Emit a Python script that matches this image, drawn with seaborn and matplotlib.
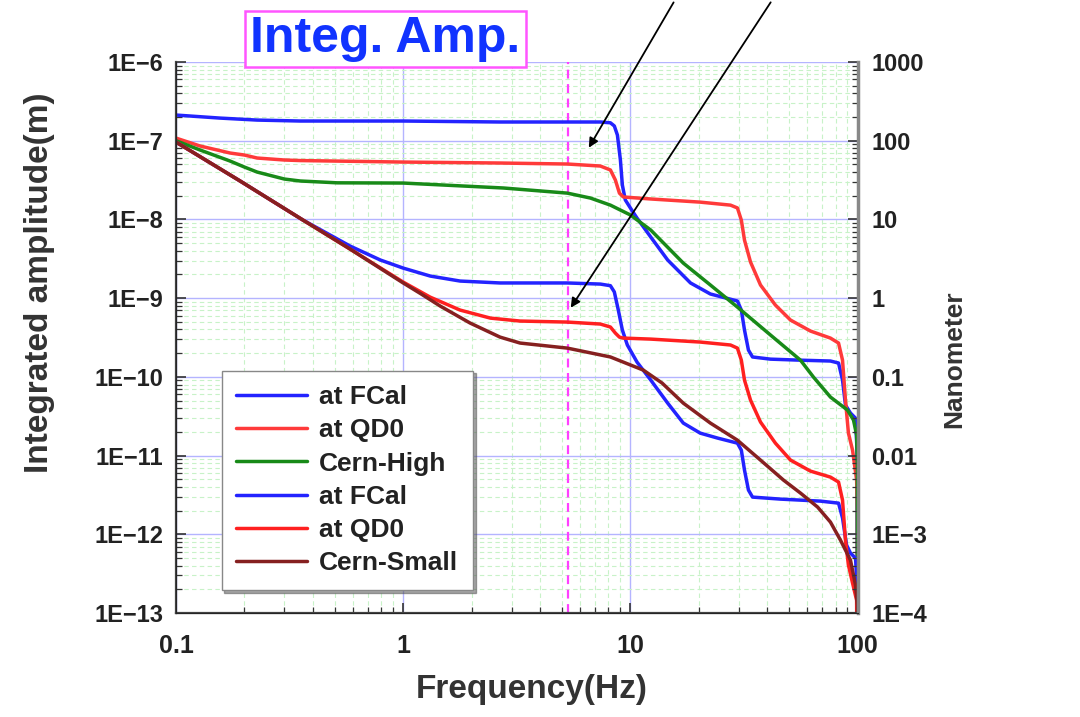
import numpy as np
import pandas as pd
import matplotlib
matplotlib.use("Agg")
import matplotlib.pyplot as plt
import seaborn as sns

# integrated amplitude curves (frequency in Hz, amplitude in m)
fcal_hi_f = [0.1, 0.156, 0.2275, 0.352, 1.0, 2.67, 5.28, 7.38, 8.17, 8.5, 8.77, 9.04, 9.22, 9.5,
             10.0, 10.7, 12.3, 14.6, 18.4, 22.5, 29.6, 30.8, 31.8, 33.1, 34.5, 41.4, 56.1, 76.0,
             82.5, 85.9, 88.5, 93.1, 98.0, 99.5, 99.99]
fcal_hi_a = [2.12e-7, 1.94e-7, 1.83e-7, 1.78e-7, 1.78e-7, 1.73e-7, 1.73e-7, 1.73e-7, 1.69e-7, 1.54e-7,
             1.18e-7, 5.69e-8, 2.74e-8, 1.77e-8, 1.40e-8, 1.04e-8, 5.97e-9, 3.05e-9, 1.56e-9, 1.13e-9,
             9.2e-10, 7.06e-10, 3.94e-10, 2.19e-10, 1.79e-10, 1.68e-10, 1.63e-10, 1.59e-10, 1.50e-10,
             9.1e-11, 4.38e-11, 3.47e-11, 2.99e-11, 1.17e-11, 1e-15]

qd0_hi_f = [0.1, 0.1276, 0.173, 0.2, 0.2275, 0.3, 0.352, 1.0, 2.67, 5.28, 7.38, 8.17, 8.59, 8.95,
            9.31, 12.3, 20.3, 27.6, 29.6, 30.8, 31.8, 33.8, 37.4, 43.5, 50.7, 62.1, 76.0, 82.5,
            85.9, 88.5, 91.2, 95.1, 99.1, 99.8, 99.99]
qd0_hi_a = [1.08e-7, 8.57e-8, 6.98e-8, 6.58e-8, 6.03e-8, 5.69e-8, 5.6e-8, 5.36e-8, 5.21e-8, 5.06e-8,
            4.77e-8, 4.25e-8, 3.17e-8, 2.16e-8, 1.93e-8, 1.82e-8, 1.66e-8, 1.52e-8, 1.40e-8, 9.8e-9,
            5.47e-9, 2.88e-9, 1.47e-9, 8.17e-10, 5.27e-10, 3.82e-10, 3.11e-10, 2.69e-10, 1.63e-10,
            5.07e-11, 1.93e-11, 1.17e-11, 4.89e-12, 2.03e-12, 1e-15]

cern_hi_f = [0.1, 0.1276, 0.173, 0.2, 0.2275, 0.3, 0.352, 0.512, 1.0, 2.76, 5.28, 6.67, 8.17, 10.0,
             12.3, 17.1, 22.5, 29.6, 41.4, 56.1, 64.0, 76.0, 90.3, 96.0, 99.1, 99.8, 99.99]
cern_hi_a = [1.0e-7, 7.62e-8, 5.52e-8, 4.63e-8, 4.0e-8, 3.26e-8, 3.08e-8, 2.92e-8, 2.90e-8, 2.51e-8,
             2.16e-8, 1.87e-8, 1.52e-8, 1.14e-8, 7.33e-9, 2.79e-9, 1.47e-9, 7.7e-10, 3.4e-10,
             1.63e-10, 9.93e-11, 5.54e-11, 3.79e-11, 2.83e-11, 1.82e-11, 7.57e-12, 1e-15]

fcal_lo_f = [0.1, 0.1914, 0.3625, 0.584, 0.794, 1.0, 1.315, 1.78, 2.67, 5.28, 7.38, 8.17, 8.5, 8.85,
             9.22, 9.7, 10.7, 12.3, 14.6, 17.1, 20.3, 24.2, 29.6, 30.8, 31.8, 33.1, 34.5, 45.8, 68.7,
             82.5, 85.9, 89.5, 93.1, 98.0, 99.8, 99.99]
fcal_lo_a = [9.62e-8, 3.08e-8, 9.8e-9, 4.59e-9, 3.05e-9, 2.41e-9, 1.91e-9, 1.65e-9, 1.56e-9, 1.56e-9,
             1.51e-9, 1.44e-9, 1.2e-9, 7.06e-10, 3.94e-10, 2.54e-10, 1.54e-10, 9.1e-11, 4.64e-11,
             2.59e-11, 1.93e-11, 1.67e-11, 1.44e-11, 1.17e-11, 6.55e-12, 3.65e-12, 2.97e-12, 2.8e-12,
             2.64e-12, 2.49e-12, 1.61e-12, 7.3e-13, 5.77e-13, 4.99e-13, 1.95e-13, 1e-15]

qd0_lo_f = [0.1, 0.1914, 0.3625, 0.584, 1.0, 1.315, 1.78, 2.42, 3.27, 5.28, 7.38, 8.17, 8.59, 8.95,
            9.31, 12.3, 20.3, 27.6, 29.6, 30.8, 31.8, 33.8, 37.4, 43.5, 50.7, 62.1, 76.0, 82.5, 85.9,
            88.5, 91.2, 95.1, 99.1, 99.99]
qd0_lo_a = [9.62e-8, 3.08e-8, 9.8e-9, 4.2e-9, 1.6e-9, 1.03e-9, 7.06e-10, 5.58e-10, 5.12e-10, 4.97e-10,
            4.69e-10, 4.3e-10, 3.6e-10, 3.2e-10, 3.11e-10, 3.02e-10, 2.77e-10, 2.54e-10, 2.32e-10,
            1.63e-10, 9.1e-11, 5.07e-11, 2.67e-11, 1.44e-11, 8.77e-12, 6.35e-12, 5.33e-12, 4.61e-12,
            2.72e-12, 8.4e-13, 4.06e-13, 2.4e-13, 1.45e-13, 1e-15]

cern_sm_f = [0.1, 0.1914, 0.3625, 0.584, 1.0, 1.2, 1.455, 1.97, 2.67, 3.27, 5.28, 8.17, 11.4, 13.8,
             17.1, 22.5, 29.6, 37.4, 47.2, 56.1, 66.7, 76.0, 84.2, 93.1, 98.0, 99.8, 99.99]
cern_sm_a = [9.62e-8, 3.08e-8, 9.8e-9, 4.2e-9, 1.56e-9, 1.13e-9, 7.94e-10, 4.83e-10, 3.2e-10,
             2.69e-10, 2.32e-10, 1.79e-10, 1.22e-10, 8.34e-11, 4.64e-11, 2.59e-11, 1.57e-11,
             8.77e-12, 4.89e-12, 3.34e-12, 2.22e-12, 1.43e-12, 8.4e-13, 4.7e-13, 2.26e-13, 1.26e-13,
             1e-15]

series = [
    ("at FCal", fcal_hi_f, fcal_hi_a, "#2323ff"),
    ("at QD0", qd0_hi_f, qd0_hi_a, "#ff3a3a"),
    ("Cern-High", cern_hi_f, cern_hi_a, "#188a18"),
    ("at FCal", fcal_lo_f, fcal_lo_a, "#2323ff"),
    ("at QD0", qd0_lo_f, qd0_lo_a, "#ff2020"),
    ("Cern-Small", cern_sm_f, cern_sm_a, "#862020"),
]

left_ticks = [1e-13, 1e-12, 1e-11, 1e-10, 1e-9, 1e-8, 1e-7, 1e-6]
left_labels = ["1E\u221213", "1E\u221212", "1E\u221211", "1E\u221210",
               "1E\u22129", "1E\u22128", "1E\u22127", "1E\u22126"]
right_ticks = [1e-4, 1e-3, 1e-2, 1e-1, 1, 10, 100, 1000]
right_labels = ["1E\u22124", "1E\u22123", "0.01", "0.1", "1", "10", "100", "1000"]
x_ticks = [0.1, 1, 10, 100]
x_labels = ["0.1", "1", "10", "100"]

marker_freq = 5.3

sns.set_style("ticks")
plt.rcParams["font.family"] = ["Liberation Sans", "DejaVu Sans"]

fig = plt.figure(figsize=(10.8, 7.17), dpi=100)
ax = fig.add_axes([0.163, 0.145, 0.631, 0.7685])
ax.set_xscale("log")
ax.set_yscale("log")

for label, f, a, c in series:
    df = pd.DataFrame({"f": f, "a": a})
    sns.lineplot(data=df, x="f", y="a", ax=ax, color=c, lw=2.5, label=label,
                 sort=False, estimator=None)

ax.set_xlim(0.1, 100)
ax.set_ylim(1e-13, 1e-6)

# grids: blue decades, green dashed minors
ax.grid(which="major", color="#b4b4ff", lw=1.0, ls="-")
ax.grid(which="minor", color="#c8f2c8", lw=0.8, ls=(0, (4, 3)))
ax.set_axisbelow(True)

ax.axvline(marker_freq, color="#ff40ff", ls=(0, (4, 2.5)), lw=1.6, zorder=1.5)

ax.set_xticks(x_ticks)
ax.set_xticklabels(x_labels)
ax.set_yticks(left_ticks)
ax.set_yticklabels(left_labels)
ax.tick_params(which="both", direction="in", colors="#333333", labelcolor="#222222")
ax.tick_params(which="major", length=7, width=1.2, labelsize=17)
ax.tick_params(which="minor", length=4, width=0.9)
ax.tick_params(axis="x", pad=15, labelsize=18)
ax.tick_params(axis="y", pad=9)
for t in ax.get_xticklabels() + ax.get_yticklabels():
    t.set_fontweight("bold")
ax.spines["top"].set_visible(False)
for s in ["left", "bottom"]:
    ax.spines[s].set_color("#444444")
    ax.spines[s].set_linewidth(1.6)

ax.set_xlabel("Frequency(Hz)", fontsize=24, fontweight="bold", color="#333333")
ax.set_ylabel("Integrated amplitude(m)", fontsize=24, fontweight="bold", color="#333333")
ax.xaxis.set_label_coords(0.522, -0.11)
ax.yaxis.set_label_coords(-0.178, 0.6)

ax2 = ax.twinx()
ax2.set_yscale("log")
ax2.set_ylim(1e-4, 1000)
ax2.set_yticks(right_ticks)
ax2.set_yticklabels(right_labels)
ax2.tick_params(which="both", direction="in", colors="#333333", labelcolor="#222222")
ax2.tick_params(which="major", length=7, width=1.2, labelsize=17, pad=10)
ax2.tick_params(which="minor", length=4, width=0.9)
for t in ax2.get_yticklabels():
    t.set_fontweight("bold")
ax2.spines["top"].set_visible(False)
ax2.spines["right"].set_color("#888888")
ax2.spines["right"].set_linewidth(2.5)
ax2.set_ylabel("Nanometer", fontsize=19, fontweight="bold", color="#333333")
ax2.yaxis.set_label_coords(1.125, 0.46)

leg = ax.legend(loc="lower left", bbox_to_anchor=(0.067, 0.042), borderaxespad=0,
                fontsize=19, handlelength=2.7, handletextpad=0.45, labelspacing=0.35,
                borderpad=0.55, fancybox=False, shadow=True, framealpha=1, edgecolor="#888888")
for t in leg.get_texts():
    t.set_fontweight("bold")
    t.set_color("#222222")

# arrows coming in from above the frame
ax.annotate("", xy=(6.47, 7.6e-8), xytext=(0.625, 1.0), textcoords="figure fraction",
            arrowprops=dict(arrowstyle="-|>", color="black", lw=1.3, mutation_scale=14),
            annotation_clip=False)
ax.annotate("", xy=(5.38, 7.06e-10), xytext=(0.715, 1.0), textcoords="figure fraction",
            arrowprops=dict(arrowstyle="-|>", color="black", lw=1.3, mutation_scale=14),
            annotation_clip=False)

fig.text(0.357, 0.9456, "Integ. Amp.", fontsize=36, fontweight="bold", color="#1133ff",
         ha="center", va="center",
         bbox=dict(boxstyle="square,pad=0.1", fc="white", ec="#ff55ff", lw=1.8))

fig.savefig("out.png", dpi=100)
